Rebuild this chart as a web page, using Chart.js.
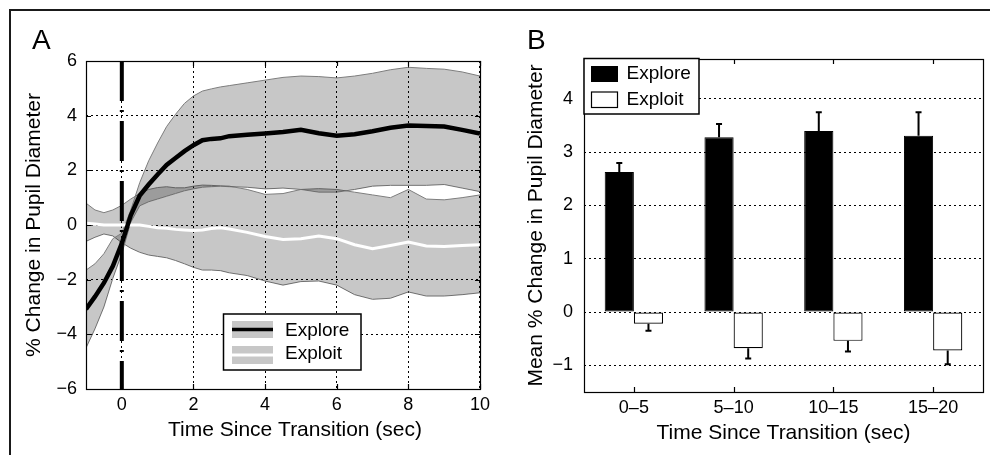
<!DOCTYPE html>
<html>
<head>
<meta charset="utf-8">
<script src="https://cdn.jsdelivr.net/npm/chart.js@4.4.1/dist/chart.umd.min.js"></script>
<style>
  html, body { margin:0; padding:0; background:#fff; }
  body { width:990px; height:455px; position:relative; overflow:hidden; font-family:"Liberation Sans", Arial, sans-serif; }
  #frame { position:absolute; left:9px; top:9px; width:990px; height:460px; border-top:2px solid #1a1a1a; border-left:2px solid #1a1a1a; }
  .panel { position:absolute; top:0; width:495px; height:455px; }
  #panelA { left:0; }
  #panelB { left:495px; }
  .letter { position:absolute; font-size:28px; line-height:28px; color:#000; }
</style>
</head>
<body>
<div id="frame"></div>
<div class="panel" id="panelA"><canvas id="chartA" width="495" height="455"></canvas></div>
<div class="panel" id="panelB"><canvas id="chartB" width="495" height="455"></canvas></div>
<div class="letter" style="left:32px; top:26px;">A</div>
<div class="letter" style="left:527px; top:26px;">B</div>
<script>
// ---- panel A : pupil trace (mean +/- band) ----
var timeA = [-1, -0.75, -0.5, -0.25, 0, 0.25, 0.5, 0.75, 1, 1.25, 1.5, 1.75, 2, 2.25, 2.5, 2.75, 3, 3.5, 4, 4.5, 5, 5.5, 6, 6.5, 7, 7.5, 8, 8.5, 9, 9.5, 10];
var exploreMean  = [-3.08, -2.62, -2.12, -1.5, -0.67, 0.35, 1.08, 1.48, 1.85, 2.2, 2.45, 2.7, 2.92, 3.1, 3.15, 3.17, 3.25, 3.3, 3.35, 3.4, 3.48, 3.36, 3.27, 3.32, 3.43, 3.56, 3.64, 3.62, 3.6, 3.48, 3.35];
var exploreUpper = [-1.65, -1.42, -1.05, -0.5, -0.3, 0.55, 1.55, 2.35, 3.0, 3.6, 4.05, 4.45, 4.72, 4.9, 4.98, 5.05, 5.1, 5.2, 5.3, 5.4, 5.45, 5.43, 5.38, 5.45, 5.55, 5.68, 5.77, 5.73, 5.7, 5.6, 5.45];
var exploreLower = [-4.5, -3.8, -3.0, -1.95, -1.05, 0.1, 0.7, 0.85, 0.95, 1.05, 1.15, 1.25, 1.32, 1.38, 1.4, 1.42, 1.4, 1.38, 1.32, 1.35, 1.3, 1.2, 1.2, 1.3, 1.42, 1.45, 1.45, 1.45, 1.48, 1.35, 1.22];
var exploitMean  = [0.06, 0.04, 0.0, 0.0, 0.0, 0.0, 0.0, -0.05, -0.1, -0.12, -0.16, -0.18, -0.2, -0.18, -0.13, -0.1, -0.15, -0.27, -0.42, -0.53, -0.5, -0.4, -0.5, -0.72, -0.87, -0.75, -0.62, -0.77, -0.79, -0.75, -0.72];
var exploitUpper = [0.8, 0.55, 0.45, 0.55, 0.72, 0.95, 1.15, 1.3, 1.37, 1.4, 1.36, 1.36, 1.42, 1.46, 1.45, 1.43, 1.42, 1.3, 1.12, 1.15, 1.3, 1.33, 1.3, 1.2, 1.1, 1.0, 1.3, 0.95, 0.92, 1.0, 1.1];
var exploitLower = [-0.6, -0.45, -0.33, -0.4, -0.65, -0.85, -1.0, -1.1, -1.15, -1.2, -1.3, -1.42, -1.55, -1.65, -1.65, -1.67, -1.75, -1.85, -2.05, -2.2, -2.07, -2.05, -2.2, -2.55, -2.72, -2.68, -2.45, -2.6, -2.6, -2.55, -2.48];
var transitionTime = 0;
var xTicksA = [0, 2, 4, 6, 8, 10];
var yTicksA = [-6, -4, -2, 0, 2, 4, 6];

// ---- panel B : binned means with SE ----
var binsB = ['0\u20135', '5\u201310', '10\u201315', '15\u201320'];
var exploreBars = [2.63, 3.28, 3.40, 3.31];
var exploreErr  = [0.17, 0.25, 0.35, 0.44];
var exploitBars = [-0.22, -0.68, -0.54, -0.72];
var exploitErr  = [0.13, 0.19, 0.20, 0.26];
var yTicksB = [-1, 0, 1, 2, 3, 4];

var FONT = '"Liberation Sans", Arial, sans-serif';
Chart.defaults.font.family = FONT;
Chart.defaults.color = '#000';

var BAND = 'rgba(0,0,0,0.22)';
var BAND_EDGE = '#7d7d7d';

function pts(ys) {
    return timeA.map(function (t, i) { return { x: t, y: ys[i] }; });
}
function minusSign(v) {
    return String(v).replace('-', '\u2212');
}

// box round the plot + little inward ticks, matlab style
var frameTicks = {
    id: 'frameTicks',
    afterDraw: function (chart, args, opts) {
        var ctx = chart.ctx, a = chart.chartArea, len = 5;
        ctx.save();
        ctx.strokeStyle = '#000';
        ctx.lineWidth = 1.2;
        ctx.beginPath();
        if (opts.x) {
            var sx = chart.scales.x;
            sx.ticks.forEach(function (t, i) {
                var px = Math.round(sx.getPixelForTick(i)) + 0.5;
                ctx.moveTo(px, a.bottom); ctx.lineTo(px, a.bottom - len);
                ctx.moveTo(px, a.top); ctx.lineTo(px, a.top + len);
            });
        }
        if (opts.y) {
            var sy = chart.scales.y;
            sy.ticks.forEach(function (t, i) {
                var py = Math.round(sy.getPixelForTick(i)) + 0.5;
                ctx.moveTo(a.left, py); ctx.lineTo(a.left + len, py);
                ctx.moveTo(a.right, py); ctx.lineTo(a.right - len, py);
            });
        }
        ctx.stroke();
        ctx.strokeRect(Math.round(a.left) + 0.5, Math.round(a.top) + 0.5, Math.round(a.width), Math.round(a.height));
        ctx.restore();
    }
};

var legendA = {
    id: 'legendA',
    afterDraw: function (chart) {
        var ctx = chart.ctx;
        ctx.save();
        ctx.fillStyle = '#fff';
        ctx.fillRect(223.5, 314, 137.5, 56);
        ctx.strokeStyle = '#000';
        ctx.lineWidth = 1.5;
        ctx.strokeRect(223.5, 314, 137.5, 56);
        ctx.fillStyle = 'rgb(199,199,199)';
        ctx.fillRect(232, 321, 41, 17);
        ctx.fillRect(232, 346, 41, 7.5);
        ctx.fillRect(232, 356.5, 41, 7.5);
        ctx.beginPath();
        ctx.moveTo(232, 329.5); ctx.lineTo(273, 329.5);
        ctx.lineWidth = 3.5;
        ctx.stroke();
        ctx.fillStyle = '#000';
        ctx.font = '19px ' + FONT;
        ctx.textBaseline = 'middle';
        ctx.fillText('Explore', 285, 331);
        ctx.fillText('Exploit', 285, 354);
        // x label sits a bit right of the axis centre in the original
        ctx.font = '21px ' + FONT;
        ctx.textAlign = 'center';
        ctx.fillText('Time Since Transition (sec)', 295, 430);
        ctx.restore();
    }
};

new Chart(document.getElementById('chartA'), {
    type: 'line',
    data: {
        datasets: [
            { label: 'Explore', data: pts(exploreMean), borderColor: '#000', borderWidth: 4.5, pointRadius: 0, fill: false },
            { label: 'Exploit', data: pts(exploitMean), borderColor: '#fff', borderWidth: 3, pointRadius: 0, fill: false },
            { label: 'transition', data: [{ x: transitionTime, y: 6 }, { x: transitionTime, y: -6 }],
              borderColor: '#000', borderWidth: 4, borderDash: [40, 9, 2, 9], pointRadius: 0, fill: false },
            { label: 'exploreUpper', data: pts(exploreUpper), borderColor: BAND_EDGE, borderWidth: 1, pointRadius: 0,
              fill: '+1', backgroundColor: BAND },
            { label: 'exploreLower', data: pts(exploreLower), borderColor: BAND_EDGE, borderWidth: 1, pointRadius: 0, fill: false },
            { label: 'exploitUpper', data: pts(exploitUpper), borderColor: BAND_EDGE, borderWidth: 1, pointRadius: 0,
              fill: '+1', backgroundColor: BAND },
            { label: 'exploitLower', data: pts(exploitLower), borderColor: BAND_EDGE, borderWidth: 1, pointRadius: 0, fill: false }
        ]
    },
    options: {
        responsive: false,
        animation: false,
        layout: { padding: { left: 22, top: 61, right: 14, bottom: 12 } },
        plugins: { legend: { display: false }, tooltip: { enabled: false }, frameTicks: { x: true, y: true } },
        scales: {
            x: {
                type: 'linear', min: -1, max: 10,
                afterBuildTicks: function (s) { s.ticks = xTicksA.map(function (v) { return { value: v }; }); },
                afterFit: function (s) { s.height = 54; },
                grid: { color: '#000', lineWidth: 1, drawTicks: false },
                border: { display: false, dash: [2, 3] },
                ticks: { padding: 5, font: { size: 18 }, callback: minusSign },
                title: { display: false }
            },
            y: {
                type: 'linear', min: -6, max: 6,
                afterBuildTicks: function (s) { s.ticks = yTicksA.map(function (v) { return { value: v }; }); },
                afterFit: function (s) { s.width = 64; },
                grid: { color: '#000', lineWidth: 1, drawTicks: false },
                border: { display: false, dash: [2, 3] },
                ticks: { padding: 9, font: { size: 18 }, callback: minusSign },
                title: { display: true, text: '% Change in Pupil Diameter', font: { size: 21 }, padding: 0 }
            }
        }
    },
    plugins: [frameTicks, legendA]
});

// error bars, one sided (away from zero)
var errorBars = {
    id: 'errorBars',
    afterDatasetsDraw: function (chart) {
        var ctx = chart.ctx, sy = chart.scales.y;
        var sets = [[0, exploreBars, exploreErr, 1], [1, exploitBars, exploitErr, -1]];
        ctx.save();
        ctx.strokeStyle = '#000';
        ctx.lineWidth = 2;
        sets.forEach(function (s) {
            var meta = chart.getDatasetMeta(s[0]);
            meta.data.forEach(function (bar, i) {
                var y0 = sy.getPixelForValue(s[1][i]);
                var y1 = sy.getPixelForValue(s[1][i] + s[3] * s[2][i]);
                ctx.beginPath();
                ctx.moveTo(bar.x, y0); ctx.lineTo(bar.x, y1);
                ctx.moveTo(bar.x - 3, y1); ctx.lineTo(bar.x + 3, y1);
                ctx.stroke();
            });
        });
        ctx.restore();
    }
};

var legendB = {
    id: 'legendB',
    afterDraw: function (chart) {
        var ctx = chart.ctx, a = chart.chartArea;
        var x0 = a.left, y0 = a.top - 0.5;
        ctx.save();
        ctx.fillStyle = '#fff';
        ctx.fillRect(x0, y0, 115, 55.5);
        ctx.strokeStyle = '#000';
        ctx.lineWidth = 1.5;
        ctx.strokeRect(x0, y0, 115, 55.5);
        ctx.fillStyle = '#000';
        ctx.fillRect(x0 + 7, y0 + 7.5, 27, 16);
        ctx.lineWidth = 1.2;
        ctx.strokeRect(x0 + 7.5, y0 + 33.5, 26, 15.5);
        ctx.font = '19px ' + FONT;
        ctx.textBaseline = 'middle';
        ctx.fillText('Explore', x0 + 42.5, y0 + 15);
        ctx.fillText('Exploit', x0 + 42.5, y0 + 41.5);
        ctx.restore();
    }
};

new Chart(document.getElementById('chartB'), {
    type: 'bar',
    data: {
        labels: binsB,
        datasets: [
            { label: 'Explore', data: exploreBars, backgroundColor: '#000', borderColor: '#000', borderWidth: 1, borderSkipped: false },
            { label: 'Exploit', data: exploitBars, backgroundColor: '#fff', borderColor: '#000', borderWidth: 1.2, borderSkipped: false }
        ]
    },
    options: {
        responsive: false,
        animation: false,
        categoryPercentage: 0.585,
        barPercentage: 1,
        layout: { padding: { left: 29, top: 59, right: 7, bottom: 9 } },
        plugins: { legend: { display: false }, tooltip: { enabled: false }, frameTicks: { x: true, y: false } },
        scales: {
            x: {
                afterFit: function (s) { s.height = 54; },
                grid: { display: false, drawTicks: false },
                border: { display: false },
                ticks: { padding: 5, font: { size: 18 } },
                title: { display: true, text: 'Time Since Transition (sec)', font: { size: 21 }, padding: 0 }
            },
            y: {
                min: -1.5, max: 4.75,
                afterBuildTicks: function (s) { s.ticks = yTicksB.map(function (v) { return { value: v }; }); },
                afterFit: function (s) { s.width = 60; },
                grid: { color: '#000', lineWidth: 1, drawTicks: false },
                border: { display: false, dash: [2, 3] },
                ticks: { padding: 11, font: { size: 18 }, callback: minusSign },
                title: { display: true, text: 'Mean % Change in Pupil Diameter', font: { size: 21 }, padding: 0 }
            }
        }
    },
    plugins: [errorBars, frameTicks, legendB]
});
</script>
</body>
</html>
